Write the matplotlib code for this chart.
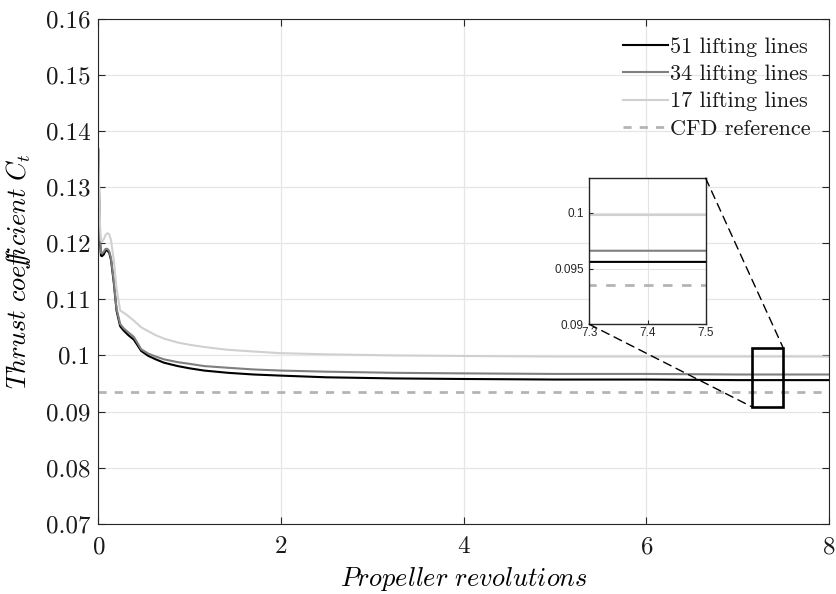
import matplotlib
matplotlib.use("Agg")
import matplotlib.pyplot as plt
from matplotlib.patches import Rectangle, ConnectionPatch

plt.rcParams['font.family'] = 'serif'
plt.rcParams['font.serif'] = ['cmr10', 'DejaVu Serif']
plt.rcParams['mathtext.fontset'] = 'cm'
plt.rcParams['axes.formatter.use_mathtext'] = True
plt.rcParams['axes.unicode_minus'] = False

# ---- data ----
rev = [0, 0.01, 0.02, 0.03, 0.04, 0.06, 0.08, 0.10, 0.12, 0.14, 0.17, 0.20, 0.24, 0.28,
       0.33, 0.39, 0.47, 0.55, 0.63, 0.72, 0.87, 1.0, 1.16, 1.42, 1.7, 2.0, 2.5, 3.24, 4, 5, 6, 7, 8]
ct_51 = [0.1367, 0.128, 0.120, 0.1178, 0.1177, 0.1180, 0.1187, 0.1187, 0.1183, 0.117, 0.113,
         0.108, 0.1052, 0.1044, 0.1036, 0.1028, 0.1008, 0.0999, 0.0993, 0.0987, 0.0981, 0.0977,
         0.0973, 0.0969, 0.0966, 0.0964, 0.0961, 0.0959, 0.0958, 0.0957, 0.0957, 0.0956, 0.0956]
ct_34 = [0.1367, 0.128, 0.1205, 0.1183, 0.1182, 0.1185, 0.1190, 0.1190, 0.1186, 0.1173, 0.1133,
         0.1083, 0.1056, 0.1048, 0.1041, 0.1033, 0.1011, 0.1003, 0.0998, 0.0993, 0.0988, 0.0985,
         0.0981, 0.0978, 0.0975, 0.0973, 0.0971, 0.0969, 0.0968, 0.0967, 0.0967, 0.0966, 0.0966]
ct_17 = [0.1367, 0.130, 0.123, 0.1205, 0.1203, 0.1207, 0.1215, 0.1218, 0.1216, 0.1205, 0.117,
         0.112, 0.1080, 0.1076, 0.1070, 0.1062, 0.1050, 0.1043, 0.1036, 0.1030, 0.1023, 0.1019,
         0.1015, 0.1010, 0.1007, 0.1004, 0.1002, 0.1000, 0.0999, 0.0998, 0.0998, 0.0998, 0.0998]
ct_cfd = 0.0935
labels = ['51 lifting lines', '34 lifting lines', '17 lifting lines', 'CFD reference']
x_ticks = [0, 2, 4, 6, 8]
y_ticks = [0.07, 0.08, 0.09, 0.1, 0.11, 0.12, 0.13, 0.14, 0.15, 0.16]
y_ticklabels = ['0.07', '0.08', '0.09', '0.1', '0.11', '0.12', '0.13', '0.14', '0.15', '0.16']
zoom_x = (7.16, 7.5)
zoom_y = (0.0908, 0.1013)
inset_x = (7.3, 7.5)
inset_y = (0.09, 0.1031)
inset_xticks = [7.3, 7.4, 7.5]
inset_yticks = [0.09, 0.095, 0.1]

c51, c34, c17, ccfd = 'black', '#7f7f7f', '#d0d0d0', '#b3b3b3'

fig = plt.figure(figsize=(8.37, 5.94), dpi=100)
ax = fig.add_axes([0.1174, 0.1184, 0.873, 0.8497])

def draw(a, lw, dash):
    a.plot(rev, ct_51, color=c51, lw=lw, label=labels[0])
    a.plot(rev, ct_34, color=c34, lw=lw, label=labels[1])
    a.plot(rev, ct_17, color=c17, lw=lw, label=labels[2])
    a.plot([0, 8], [ct_cfd, ct_cfd], color=ccfd, lw=lw * 1.3, ls=(0, dash), label=labels[3])

draw(ax, 1.5, (3, 3))
ax.set_xlim(0, 8)
ax.set_ylim(0.07, 0.16)
ax.set_xticks(x_ticks)
ax.set_yticks(y_ticks)
ax.set_yticklabels(y_ticklabels)
ax.tick_params(direction='in', top=True, right=True, labelsize=18, length=5, width=0.8,
               colors='#262626', labelcolor='#1a1a1a')
ax.tick_params(axis='x', pad=9)
ax.tick_params(axis='y', pad=5.5)
ax.grid(True, color='#e6e6e6', lw=0.9)
ax.set_axisbelow(True)
for s in ax.spines.values():
    s.set_linewidth(0.8)
    s.set_color('#262626')
ax.set_xlabel(r'$\mathit{Propeller\ revolutions}$', fontsize=19)
ax.set_ylabel(r'$\mathit{Thrust\ coe\!f\!\!f\!icient}\ C_t$', fontsize=19)
ax.xaxis.set_label_coords(0.5, -0.082)
ax.yaxis.set_label_coords(-0.0894, 0.5)
leg = ax.legend(loc='upper right', frameon=False, fontsize=16, handlelength=2.03,
                handletextpad=0.08, labelspacing=0.35, borderaxespad=0.0, borderpad=0.0,
                bbox_to_anchor=(0.9745, 0.964))
for t in leg.get_texts():
    t.set_color('#1a1a1a')

rect = Rectangle((zoom_x[0], zoom_y[0]), zoom_x[1] - zoom_x[0], zoom_y[1] - zoom_y[0],
                 fill=False, ec='black', lw=1.9, zorder=5)
ax.add_patch(rect)

axin = fig.add_axes([589.3 / 837, (594 - 324.3) / 594, 116.4 / 837, 146 / 594])
draw(axin, 1.5, (3.5, 3.5))
axin.set_xlim(*inset_x)
axin.set_ylim(*inset_y)
axin.set_xticks(inset_xticks)
axin.set_xticklabels(['7.3', '7.4', '7.5'], family='Liberation Sans')
axin.set_yticks(inset_yticks)
axin.set_yticklabels(['0.09', '0.095', '0.1'], family='Liberation Sans')
axin.tick_params(direction='in', labelsize=8.5, length=3, colors='#262626', labelcolor='#262626')
axin.tick_params(axis='x', pad=2)
axin.tick_params(axis='y', pad=4)
axin.grid(True, color='#e3e3e3', lw=0.8)
axin.set_axisbelow(True)
for s in axin.spines.values():
    s.set_linewidth(1.0)
    s.set_color('#262626')

con1 = ConnectionPatch(xyA=(1, 1), coordsA=axin.transAxes,
                       xyB=(zoom_x[1], zoom_y[1]), coordsB=ax.transData,
                       color='black', lw=1.0, ls=(0, (6, 4)))
con2 = ConnectionPatch(xyA=(0, 0), coordsA=axin.transAxes,
                       xyB=(zoom_x[0], zoom_y[0]), coordsB=ax.transData,
                       color='black', lw=1.0, ls=(0, (6, 4)))
fig.add_artist(con1)
fig.add_artist(con2)

fig.savefig('out.png', dpi=100)
